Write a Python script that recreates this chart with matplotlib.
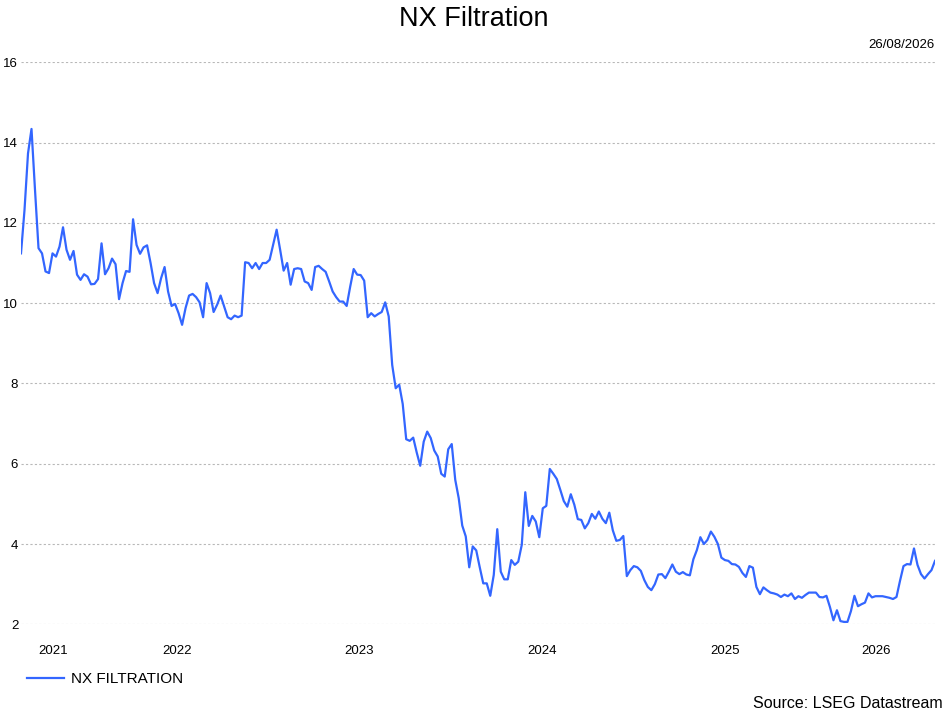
import matplotlib
matplotlib.use("Agg")
import matplotlib.pyplot as plt
import matplotlib.dates as mdates
import matplotlib.ticker as mticker
import pandas as pd

plt.rcParams['font.family'] = ['Liberation Sans', 'DejaVu Sans']

# Datos semanales (ultimo dato: 26/08/2026)
last_date = "2026-08-26"
series_name = "NX FILTRATION"
values = [
    11.24, 12.32, 13.73, 14.34, 12.82, 11.37, 11.24, 10.79, 10.75, 11.24,
    11.16, 11.41, 11.89, 11.33, 11.08, 11.30, 10.71, 10.58, 10.72, 10.66,
    10.47, 10.48, 10.60, 11.49, 10.72, 10.87, 11.11, 10.97, 10.10, 10.50,
    10.80, 10.78, 12.09, 11.45, 11.23, 11.39, 11.44, 11.00, 10.50, 10.25,
    10.62, 10.90, 10.29, 9.93, 9.98, 9.75, 9.46, 9.88, 10.19, 10.23,
    10.15, 10.02, 9.65, 10.50, 10.25, 9.78, 9.96, 10.19, 9.92, 9.65,
    9.60, 9.69, 9.65, 9.69, 11.02, 11.00, 10.87, 11.00, 10.85, 11.00,
    11.00, 11.08, 11.45, 11.83, 11.33, 10.81, 11.00, 10.46, 10.85, 10.87,
    10.85, 10.54, 10.50, 10.33, 10.90, 10.93, 10.85, 10.78, 10.54, 10.29,
    10.15, 10.04, 10.04, 9.93, 10.41, 10.85, 10.71, 10.70, 10.56, 9.65,
    9.75, 9.67, 9.73, 9.78, 10.02, 9.67,
    8.46, 7.88, 7.97, 7.49, 6.61, 6.57, 6.65, 6.28, 5.95, 6.55,
    6.80, 6.64, 6.33, 6.18, 5.75, 5.68, 6.36, 6.49, 5.60, 5.14,
    4.46, 4.19, 3.42, 3.94, 3.84, 3.42, 3.02, 3.02, 2.71, 3.23,
    4.37, 3.31, 3.12, 3.12, 3.60, 3.48, 3.56, 3.98, 5.29, 4.45,
    4.70, 4.56, 4.17, 4.89, 4.95, 5.87, 5.75, 5.62, 5.35, 5.07,
    4.93, 5.24, 4.98, 4.62, 4.60, 4.39, 4.52, 4.75, 4.63, 4.81,
    4.63, 4.52, 4.78, 4.34, 4.08, 4.10,
    4.20, 3.20, 3.35, 3.45, 3.42, 3.33, 3.10, 2.93, 2.85, 3.00,
    3.24, 3.25, 3.15, 3.31, 3.49, 3.31, 3.25, 3.30, 3.24, 3.22,
    3.62, 3.85, 4.17, 4.00, 4.10, 4.31, 4.18, 4.00, 3.66, 3.60,
    3.58, 3.50, 3.49, 3.43, 3.28, 3.18, 3.45, 3.41, 2.93, 2.75,
    2.92, 2.85, 2.79, 2.77, 2.74, 2.68, 2.74, 2.70, 2.77, 2.63,
    2.70, 2.66, 2.73, 2.79, 2.79, 2.79, 2.68, 2.67, 2.71, 2.43,
    2.10, 2.35, 2.08, 2.06, 2.06, 2.33, 2.71, 2.45, 2.50, 2.54,
    2.77, 2.67, 2.70, 2.70, 2.70, 2.68, 2.66, 2.63, 2.68, 3.08,
    3.45, 3.50, 3.49, 3.89, 3.48, 3.25, 3.14, 3.25, 3.35, 3.58,
]
y_ticks = [2, 4, 6, 8, 10, 12, 14, 16]

dates = pd.date_range(end=last_date, periods=len(values), freq="7D")

W, H = 948, 712
fig = plt.figure(figsize=(W / 100, H / 100), dpi=100)
ax = fig.add_axes([21 / W, 1 - 624.3 / H, (935 - 21) / W, (624.3 - 62.3) / H])

ax.plot(dates, values, color="#3366ff", linewidth=1.6, solid_joinstyle="round")

ax.set_xlim(dates[0], dates[-1])
ax.set_ylim(2, 16)
ax.set_yticks(y_ticks)
ax.yaxis.grid(True, color="#b8b8b8", linewidth=0.8, linestyle=(0, (2, 2)))
ax.set_axisbelow(True)
for s in ax.spines.values():
    s.set_visible(False)
ax.tick_params(axis="y", length=0, pad=2, labelsize=9.5)

# Etiquetas de año centradas en la parte visible de cada año
x0, x1 = ax.get_xlim()
centers, labels = [], []
for yr in range(dates[0].year, dates[-1].year + 1):
    a = max(x0, mdates.date2num(pd.Timestamp(f"{yr}-01-01")))
    b = min(x1, mdates.date2num(pd.Timestamp(f"{yr + 1}-01-01")))
    centers.append((a + b) / 2)
    labels.append(str(yr))
ax.xaxis.set_major_locator(mticker.FixedLocator(centers))
ax.xaxis.set_major_formatter(mticker.FixedFormatter(labels))
ax.tick_params(axis="x", length=0, pad=15, labelsize=9.5)

fig.text(0.5, 1 - 18.5 / H, "NX Filtration", ha="center", va="center", fontsize=19.5)
fig.text(935 / W, 1 - 45 / H, "26/08/2026", ha="right", va="center", fontsize=9.5)
fig.text(943 / W, 1 - 703 / H, "Source: LSEG Datastream", ha="right", va="center", fontsize=11.5)

leg = fig.legend([ax.lines[0]], [series_name], loc="center left",
                 bbox_to_anchor=(27 / W, 1 - 679 / H), frameon=False,
                 fontsize=11, borderpad=0, borderaxespad=0,
                 handlelength=2.4, handletextpad=0.45)

fig.savefig("out.png", dpi=100)
